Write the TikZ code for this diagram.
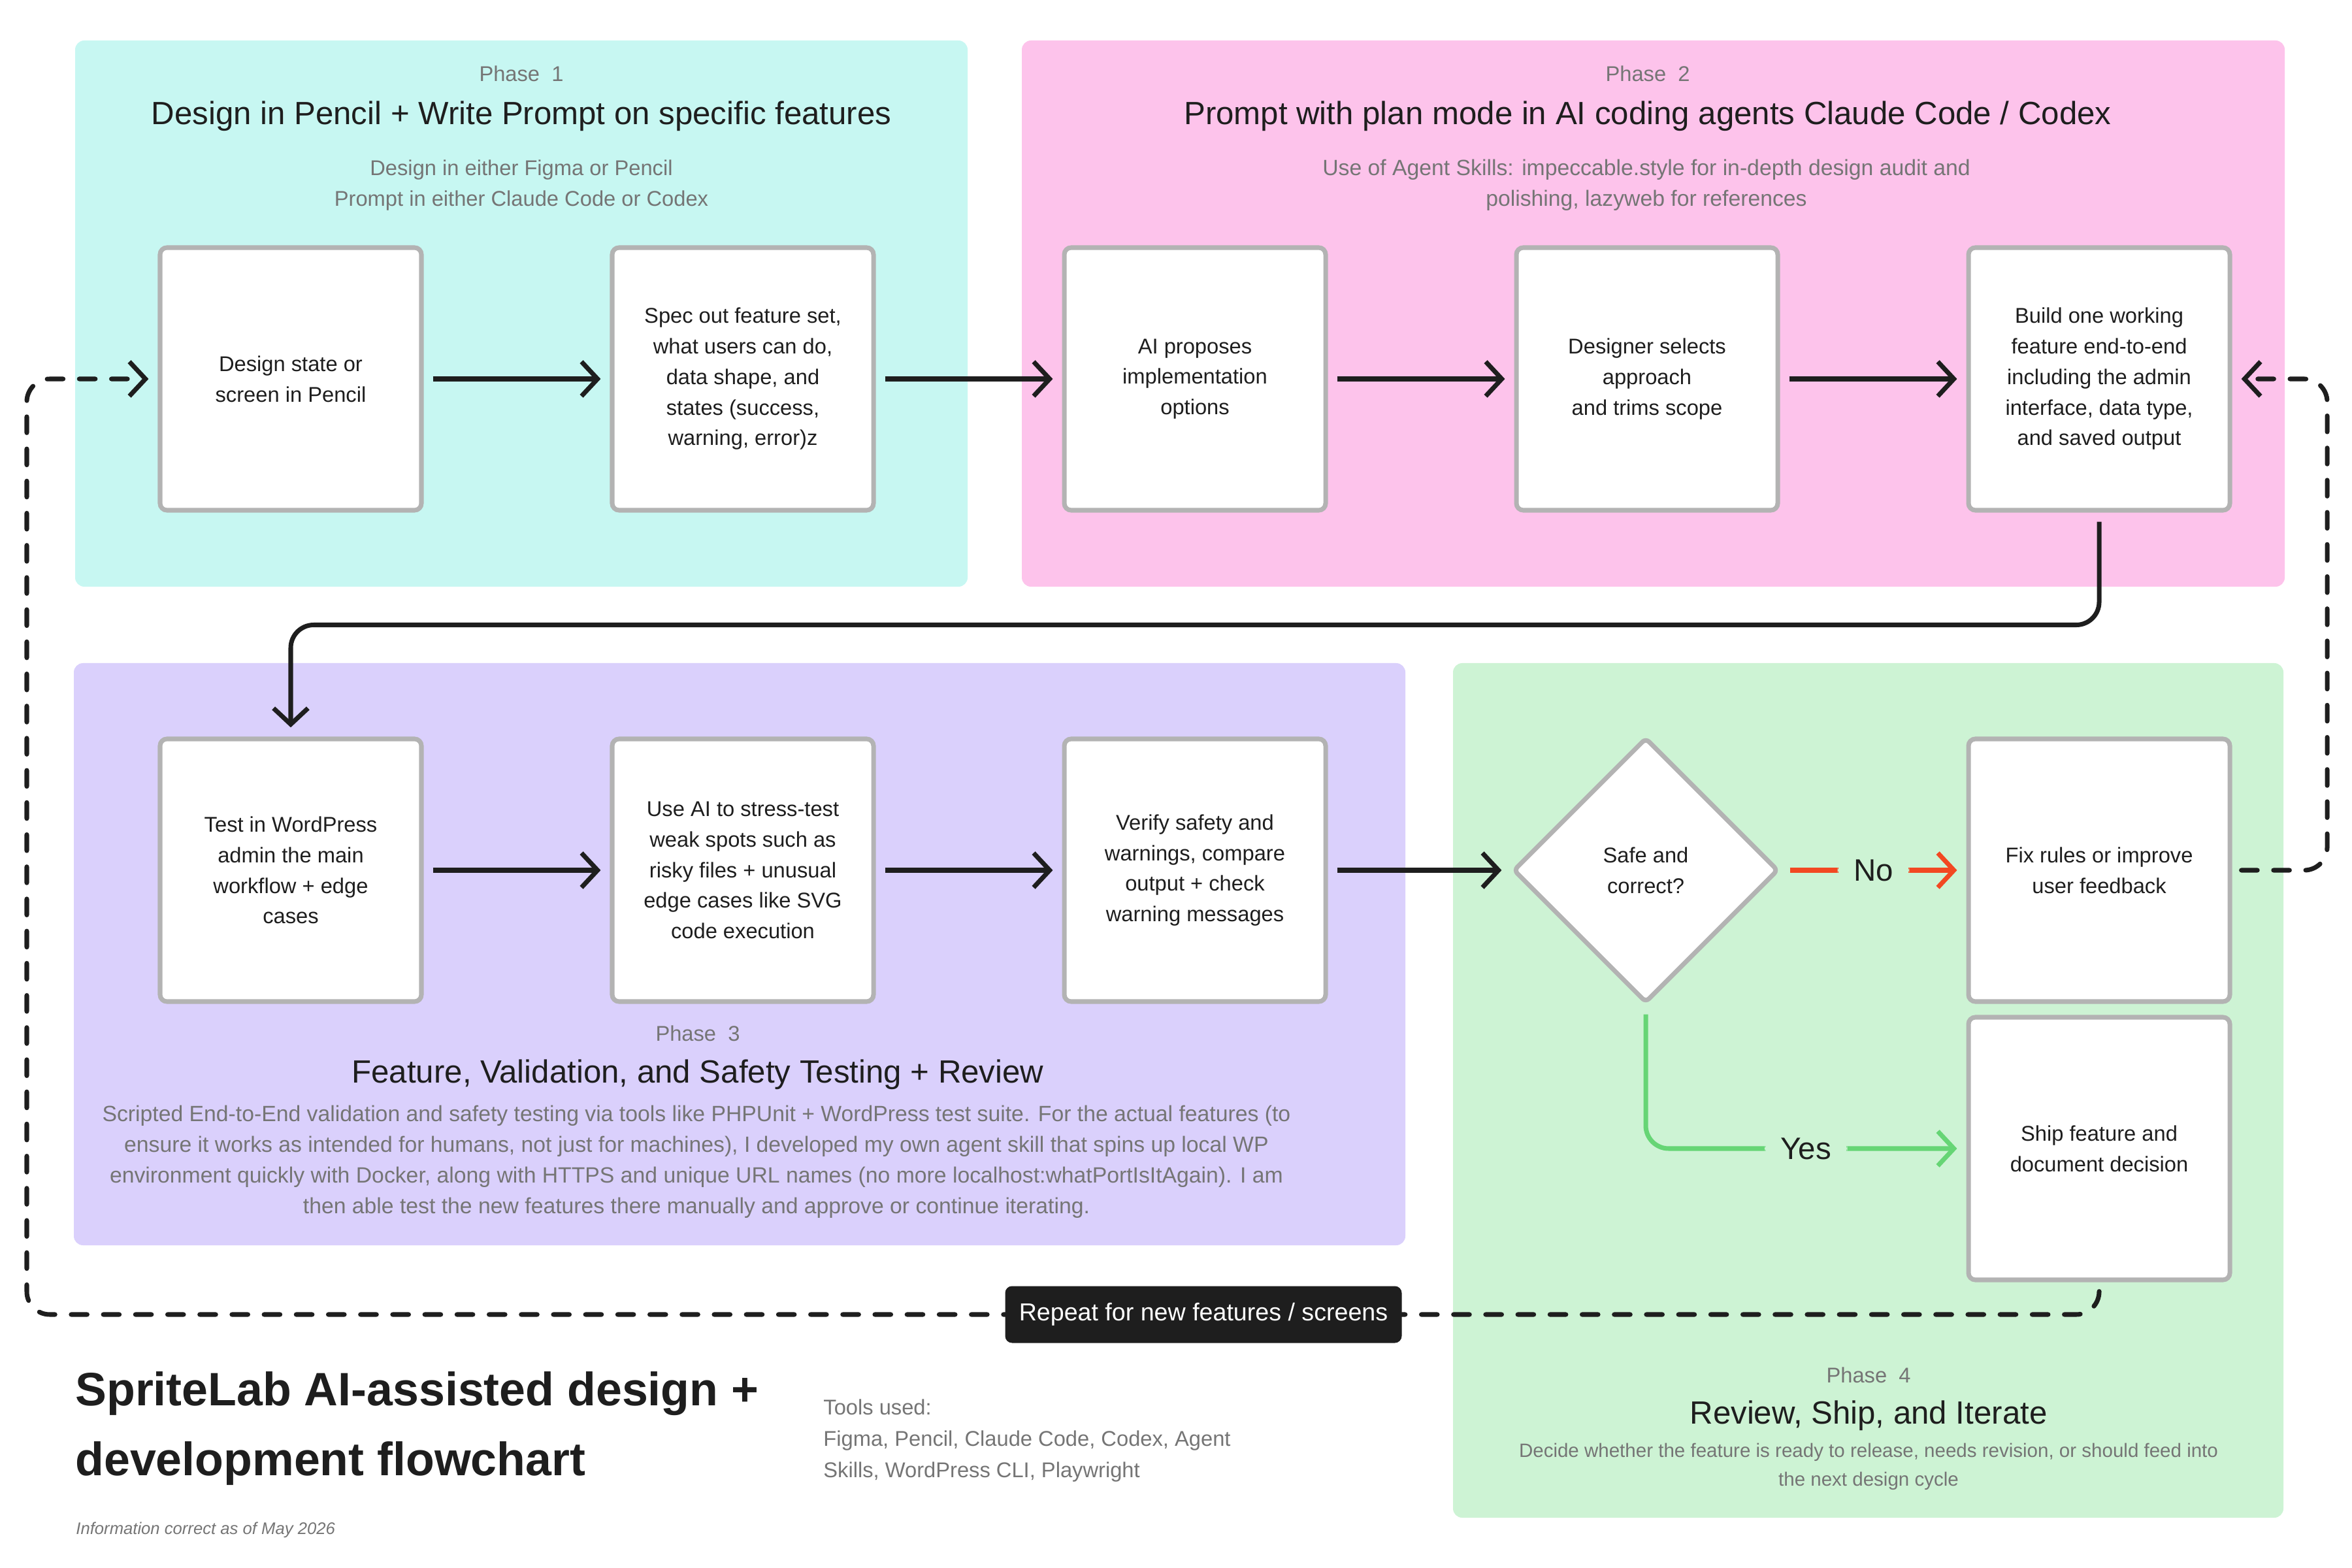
\documentclass[tikz,border=0pt]{standalone}
\usepackage{fontspec}
\setmainfont{Liberation Sans}
\usepackage{tikz}
\usetikzlibrary{arrows.meta,positioning,shapes.geometric}
\usepackage{xcolor}
\definecolor{ink}{HTML}{1E1E1E}
\definecolor{boxgray}{HTML}{B3B3B3}
\definecolor{txtgray}{HTML}{757575}
\definecolor{phcyan}{HTML}{C7F7F2}
\definecolor{phpink}{HTML}{FDC3EB}
\definecolor{phlilac}{HTML}{DAD0FC}
\definecolor{phgreen}{HTML}{CDF3D4}
\definecolor{nored}{HTML}{F24822}
\definecolor{yesgreen}{HTML}{66D575}

\begin{document}
\begin{tikzpicture}[
  panel/.style={rounded corners=4pt,inner sep=0pt},
  box/.style={draw=boxgray,line width=2pt,fill=white,rounded corners=3pt,minimum width=4cm,minimum height=4.02cm,align=center,text=ink,font=\fontsize{9.3}{13.3}\selectfont},
  decision/.style={diamond,draw=boxgray,line width=2pt,fill=white,rounded corners=2pt,minimum width=4.06cm,minimum height=4.06cm,inner sep=0pt,align=center,text=ink,font=\fontsize{9.3}{13.3}\selectfont},
  phlbl/.style={text=txtgray,font=\fontsize{9.3}{12}\selectfont},
  phttl/.style={text=ink,font=\fontsize{14}{16}\selectfont},
  phsub/.style={text=txtgray,align=center,font=\fontsize{9.6}{13.4}\selectfont},
  arr/.style={-{Straight Barb[length=7pt,width=15pt]},line width=2pt,draw=ink,shorten <=4pt,shorten >=4pt,rounded corners=10pt},
  backarr/.style={-{Straight Barb[length=7pt,width=15pt]},line width=2pt,draw=ink,dash pattern=on 7pt off 7pt,line cap=round,shorten >=4pt,shorten <=4pt,rounded corners=10pt},
  choice/.style={font=\fontsize{13.5}{15}\selectfont,text=ink,fill=phgreen,inner xsep=7pt}
]
\useasboundingbox (0,0) rectangle (36,-24);

\node[panel,fill=phcyan,minimum width=13.66cm,minimum height=8.36cm] (ph1) at (7.98,-4.80) {};
\node[panel,fill=phpink,minimum width=19.33cm,minimum height=8.36cm] (ph2) at (25.305,-4.80) {};
\node[panel,fill=phlilac,minimum width=20.38cm,minimum height=8.91cm] (ph3) at (11.32,-14.605) {};
\node[panel,fill=phgreen,minimum width=12.71cm,minimum height=13.08cm] (ph4) at (28.595,-16.69) {};

\node[phlbl] (ph1lbl) at (7.98,-1.13) {Phase\ \ 1};
\node[phttl] (ph1ttl) at (7.98,-1.78) {Design in Pencil + Write Prompt on specific features};
\node[phsub,font=\fontsize{9.3}{13.4}\selectfont] (ph1sub) at (7.98,-2.835) {Design in either Figma or Pencil\\Prompt in either Claude Code or Codex};
\node[phlbl] (ph2lbl) at (25.22,-1.13) {Phase\ \ 2};
\node[phttl] (ph2ttl) at (25.22,-1.78) {Prompt with plan mode in AI coding agents Claude Code / Codex};
\node[phsub] (ph2sub) at (25.2,-2.835) {Use of Agent Skills: impeccable.style for in-depth design audit and\\polishing, lazyweb for references};
\node[phlbl] (ph3lbl) at (10.68,-15.82) {Phase\ \ 3};
\node[phttl] (ph3ttl) at (10.68,-16.45) {Feature, Validation, and Safety Testing + Review};
\node[phsub] (ph3sub) at (10.66,-17.785) {Scripted End-to-End validation and safety testing via tools like PHPUnit + WordPress test suite. For the actual features (to\\ensure it works as intended for humans, not just for machines), I developed my own agent skill that spins up local WP\\environment quickly with Docker, along with HTTPS and unique URL names (no more localhost:whatPortIsItAgain). I am\\then able test the new features there manually and approve or continue iterating.};
\node[phlbl] (ph4lbl) at (28.6,-21.05) {Phase\ \ 4};
\node[phttl] (ph4ttl) at (28.6,-21.67) {Review, Ship, and Iterate};
\node[phsub,font=\fontsize{8.4}{12.4}\selectfont] (ph4sub) at (28.6,-22.45) {Decide whether the feature is ready to release, needs revision, or should feed into\\the next design cycle};

\node[box] (design) at (4.45,-5.80) {Design state or\\screen in Pencil};
\node[box] (spec) at (11.37,-5.80) {Spec out feature set,\\what users can do,\\data shape, and\\states (success,\\warning, error)z};
\node[box] (propose) at (18.29,-5.80) {AI proposes\\implementation\\options};
\node[box] (select) at (25.21,-5.80) {Designer selects\\approach\\and trims scope};
\node[box] (build) at (32.13,-5.80) {Build one working\\feature end-to-end\\including the admin\\interface, data type,\\and saved output};
\node[box] (wptest) at (4.45,-13.32) {Test in WordPress\\admin the main\\workflow + edge\\cases};
\node[box] (stress) at (11.37,-13.32) {Use AI to stress-test\\weak spots such as\\risky files + unusual\\edge cases like SVG\\code execution};
\node[box] (verify) at (18.29,-13.32) {Verify safety and\\warnings, compare\\output + check\\warning messages};
\node[decision] (safe) at (25.19,-13.32) {Safe and\\correct?};
\node[box] (fix) at (32.13,-13.32) {Fix rules or improve\\user feedback};
\node[box] (ship) at (32.13,-17.58) {Ship feature and\\document decision};

\draw[arr] (design) -- (spec);
\draw[arr] (spec) -- (propose);
\draw[arr] (propose) -- (select);
\draw[arr] (select) -- (build);
\draw[arr] (build.south) -- ++(0,-1.72) -| (wptest.north);
\draw[arr] (wptest) -- (stress);
\draw[arr] (stress) -- (verify);
\draw[arr] (verify) -- (safe);
\draw[arr,draw=nored] (safe.east) -- node[choice] (nolbl) {No} (fix.west);
\draw[arr,draw=yesgreen] (safe.south) |- node[choice,pos=0.75] (yeslbl) {Yes} (ship.west);

\coordinate (fixturn) at (35.62,-13.32);
\coordinate (shipturn) at (0.41,-20.12);
\draw[backarr] (fix.east) -- (fixturn) |- (build.east);
\draw[backarr] (ship.south) |- (shipturn) |- (design.west);
\node[fill=ink,text=white,rounded corners=3pt,minimum width=6.07cm,minimum height=0.87cm,font=\fontsize{10.7}{12}\selectfont] (repeat) at (18.42,-20.12) {Repeat for new features / screens};

\node[anchor=west,align=left,text=ink,font=\fontsize{20.4}{30.4}\selectfont\bfseries] (title) at (1.03,-21.865) {SpriteLab AI-assisted design +\\development flowchart};
\node[anchor=west,align=left,text=txtgray,font=\fontsize{9.3}{13.6}\selectfont] (tools) at (12.48,-22.05) {Tools used:\\Figma, Pencil, Claude Code, Codex, Agent\\Skills, WordPress CLI, Playwright};
\node[anchor=west,text=txtgray,font=\fontsize{7.3}{9}\selectfont\itshape] (info) at (1.04,-23.42) {Information correct as of May 2026};
\end{tikzpicture}
\end{document}
